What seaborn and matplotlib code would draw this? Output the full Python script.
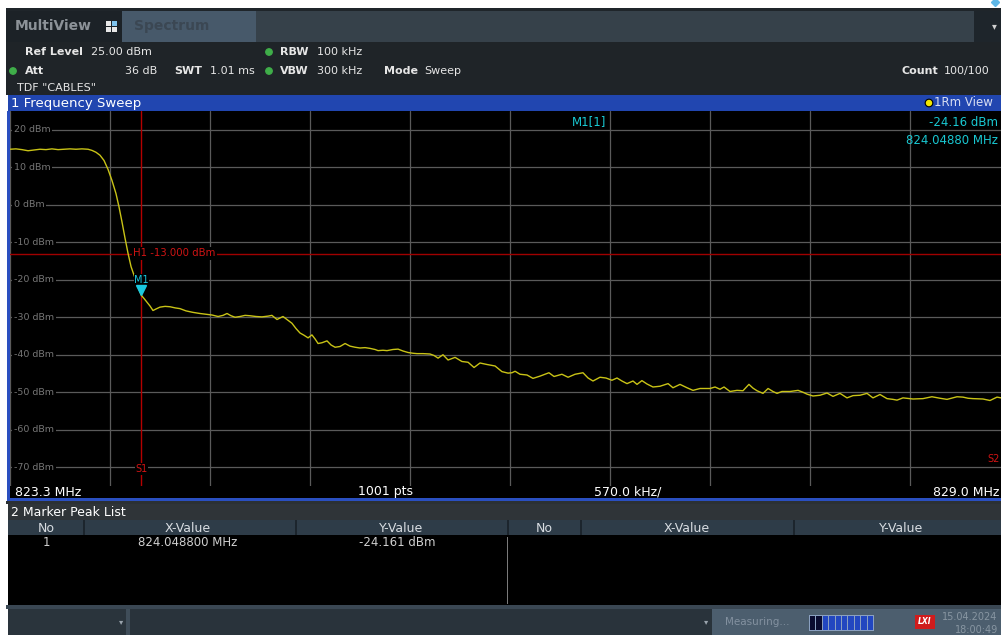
#%% Import Packages
import numpy as np
import seaborn as sns
import matplotlib.pyplot as plt
from matplotlib.patches import Rectangle, Circle
import matplotlib.transforms as mtransforms

#%% Data
freq_mhz = [823.300, 823.334, 823.368, 823.403, 823.437, 823.471, 823.505, 823.539, 823.574, 823.608,
            823.642, 823.676, 823.710, 823.745, 823.767, 823.790, 823.813, 823.836, 823.859, 823.881,
            823.904, 823.921, 823.938, 823.956, 823.973, 823.990, 824.007, 824.024, 824.035, 824.0488,
            824.064, 824.081, 824.098, 824.115, 824.132, 824.155, 824.184, 824.212, 824.241, 824.269,
            824.303, 824.343, 824.383, 824.417, 824.451, 824.486, 824.514, 824.537, 824.560, 824.583,
            824.611, 824.640, 824.668, 824.702, 824.736, 824.771, 824.793, 824.822, 824.839, 824.856,
            824.879, 824.907, 824.930, 824.953, 824.976, 824.999, 825.021, 825.039, 825.056, 825.078,
            825.107, 825.130, 825.153, 825.181, 825.210, 825.238, 825.267, 825.295, 825.324, 825.352,
            825.381, 825.398, 825.426, 825.449, 825.483, 825.512, 825.540, 825.569, 825.597, 825.620,
            825.654, 825.694, 825.717, 825.740, 825.768, 825.797, 825.837, 825.876, 825.911, 825.945,
            825.979, 826.019, 826.065, 826.104, 826.139, 826.161, 826.179, 826.207, 826.247, 826.281,
            826.321, 826.372, 826.401, 826.446, 826.481, 826.521, 826.566, 826.595, 826.623, 826.663,
            826.697, 826.731, 826.760, 826.788, 826.817, 826.851, 826.874, 826.902, 826.931, 826.965,
            827.005, 827.051, 827.079, 827.119, 827.159, 827.193, 827.233, 827.290, 827.319, 827.347,
            827.370, 827.404, 827.444, 827.478, 827.512, 827.535, 827.558, 827.592, 827.621, 827.649,
            827.672, 827.700, 827.746, 827.792, 827.820, 827.843, 827.877, 827.917, 827.957, 827.991,
            828.031, 828.071, 828.105, 828.145, 828.185, 828.219, 828.259, 828.299, 828.333, 828.356,
            828.390, 828.447, 828.504, 828.555, 828.601, 828.641, 828.675, 828.698, 828.732, 828.761,
            828.789, 828.846, 828.886, 828.926, 828.949, 829.000]
level_dbm = [14.8, 14.9, 14.7, 14.4, 14.6, 14.8, 14.7, 14.9, 14.7, 14.8,
             14.9, 14.8, 14.9, 14.8, 14.5, 14.0, 13.2, 11.8, 9.4, 6.5,
             3.0, -0.5, -4.5, -9.0, -13.0, -16.5, -18.8, -21.0, -22.6, -24.16,
             -25.0, -26.0, -27.0, -28.2, -27.8, -27.3, -27.1, -27.2, -27.5, -27.7,
             -28.3, -28.7, -29.0, -29.2, -29.4, -29.8, -29.5, -29.0, -29.6, -30.0,
             -29.8, -29.5, -29.6, -29.8, -29.9, -29.7, -29.5, -30.6, -30.2, -29.8,
             -30.6, -31.6, -33.0, -34.2, -34.8, -35.5, -34.7, -35.8, -37.0, -36.8,
             -36.3, -37.4, -38.0, -37.8, -37.0, -37.7, -38.0, -38.2, -38.1, -38.3,
             -38.6, -38.9, -38.8, -38.9, -38.6, -38.5, -39.0, -39.4, -39.6, -39.7,
             -39.7, -39.8, -40.2, -40.9, -40.0, -41.4, -40.7, -41.8, -42.0, -43.4,
             -42.2, -42.6, -43.0, -44.5, -44.9, -44.8, -44.4, -45.2, -45.4, -46.3,
             -45.7, -44.8, -45.8, -45.2, -46.0, -45.2, -44.8, -46.2, -47.0, -46.0,
             -46.2, -46.8, -46.2, -47.0, -47.7, -47.0, -47.9, -46.9, -47.8, -48.6,
             -48.4, -47.7, -48.8, -47.9, -48.8, -49.5, -49.0, -49.0, -48.6, -49.2,
             -48.6, -49.8, -49.5, -49.6, -47.9, -48.9, -49.6, -50.3, -49.0, -49.8,
             -50.3, -49.8, -49.8, -49.5, -50.0, -50.5, -51.0, -50.8, -50.2, -51.1,
             -50.3, -51.5, -50.9, -50.8, -50.3, -51.5, -50.6, -51.7, -51.9, -52.1,
             -51.5, -51.8, -51.7, -51.2, -51.6, -51.9, -51.5, -51.2, -51.3, -51.6,
             -51.7, -51.8, -52.2, -51.3, -51.5, -51.4]

f_start, f_stop = 823.3, 829.0
ref_level, bottom_level = 25.0, -75.0
grid_levels = [20, 10, 0, -10, -20, -30, -40, -50, -60, -70]
h1_level = -13.0
m1_freq, m1_level = 824.0488, -24.161
s1_freq = 824.0488
s2_freq = 828.87

#%% Figure setup
sns.set_style("dark", {"axes.facecolor": "black"})
plt.rcParams['font.family'] = ['DejaVu Sans']

W, H = 1001, 635
fig = plt.figure(figsize=(W / 100, H / 100), dpi=100, facecolor='white')

# background layer in screen pixels
bg = fig.add_axes([0, 0, 1, 1])
bg.set_xlim(0, W)
bg.set_ylim(H, 0)
bg.axis('off')
bg.set_zorder(1)

def box(x0, y0, x1, y1, color, **kw):
    bg.add_patch(Rectangle((x0, y0), x1 - x0, y1 - y0, facecolor=color, edgecolor='none', **kw))

def txt(x, y, s, size=8, color='#e6e6e6', weight='normal', ha='left', **kw):
    bg.text(x, y, s, fontsize=size, color=color, weight=weight, ha=ha, va='center', **kw)

# tab bar
bg.plot([995], [2], marker='D', ms=4, color='#5fb8e8', clip_on=False)
box(6, 8, W, 11, '#1f252a')
box(6, 11, 122, 42, '#1c2227')
box(122, 11, 256, 42, '#47596a')
box(256, 11, 974, 42, '#36414a')
box(974, 11, W, 42, '#1e252b')
txt(15, 26, 'MultiView', size=10, color='#8c9298', weight='bold')
box(106, 21, 111, 26, '#e8e8e8'); box(112, 21, 117, 26, '#7fc4ee')
box(106, 27, 111, 32, '#e8e8e8'); box(112, 27, 117, 32, '#e8e8e8')
txt(134, 26, 'Spectrum', size=10, color='#3b4753', weight='bold')
txt(994, 26, '▾', size=7, color='#d0d0d0', ha='center')

# settings panel
box(6, 42, W, 95, '#1f2428')
dot_green = '#3fae49'
txt(25, 52, 'Ref Level', weight='bold')
txt(91, 52, '25.00 dBm')
bg.add_patch(Circle((269, 52), 3.2, color=dot_green))
txt(280, 52, 'RBW', weight='bold')
txt(317, 52, '100 kHz')
bg.add_patch(Circle((13, 71), 3.2, color=dot_green))
txt(25, 71, 'Att', weight='bold')
txt(157, 71, '36 dB', ha='right')
txt(174, 71, 'SWT', weight='bold')
txt(210, 71, '1.01 ms')
bg.add_patch(Circle((269, 71), 3.2, color=dot_green))
txt(280, 71, 'VBW', weight='bold')
txt(317, 71, '300 kHz')
txt(384, 71, 'Mode', weight='bold')
txt(424, 71, 'Sweep')
txt(901, 71, 'Count', weight='bold')
txt(944, 71, '100/100')
txt(17, 88, 'TDF "CABLES"')

# window title bar
box(8, 95, W, 111, '#2146b0')
txt(11, 103, '1 Frequency Sweep', size=9.5, color='white')
bg.add_patch(Circle((929, 103), 3.8, facecolor='#f2e600', edgecolor='black', lw=0.8))
txt(934, 103, '1Rm View', size=8.5, color='#d8def2')

# left blue border + bottom label row
box(7, 111, 10, 501, '#2a4fc0')
box(10, 486, W, 498, 'black')
box(7, 498, W, 501, '#2a4fc0')
txt(15, 492, '823.3 MHz', size=9, color='white')
txt(385, 492, '1001 pts', size=9, color='white', ha='center')
txt(594, 492, '570.0 kHz/', size=9, color='white')
txt(933, 492, '829.0 MHz', size=9, color='white')

# marker peak list
box(6, 501, W, 504, '#2b3034')
box(8, 504, W, 520, '#2f3438')
txt(11, 512, '2 Marker Peak List', size=9, color='white')
box(8, 520, W, 535, '#2e3c48')
for sx in [83, 295, 507, 580, 793]:
    box(sx, 520, sx + 1.5, 535, '#1c252d')
box(8, 535, W, 605, 'black')
box(507, 537, 508, 604, '#7a7a7a')
hdr_col = '#d8dde2'
txt(46, 528, 'No', size=9, color=hdr_col, ha='center')
txt(188, 528, 'X-Value', size=9, color=hdr_col, ha='center')
txt(401, 528, 'Y-Value', size=9, color=hdr_col, ha='center')
txt(544, 528, 'No', size=9, color=hdr_col, ha='center')
txt(687, 528, 'X-Value', size=9, color=hdr_col, ha='center')
txt(901, 528, 'Y-Value', size=9, color=hdr_col, ha='center')
row_col = '#cfcfcf'
txt(46, 543, '1', size=8.5, color=row_col, ha='center')
txt(188, 543, f'{m1_freq:.6f} MHz', size=8.5, color=row_col, ha='center')
txt(397, 543, f'{m1_level:.3f} dBm', size=8.5, color=row_col, ha='center')

# status bar
box(6, 605, W, 609, '#3a4753')
box(8, 609, 126, H, '#2a343c')
box(126, 609, 130, H, '#3f4d59')
box(130, 609, 712, H, '#29333b')
box(712, 609, W, H, '#4c5e6e')
txt(121, 622, '▾', size=6, color='#9aa4ad', ha='center')
txt(706, 622, '▾', size=6, color='#9aa4ad', ha='center')
txt(725, 622, 'Measuring...', size=7.5, color='#8391a0')
bg.add_patch(Rectangle((809, 615), 65, 16, facecolor='#8aa0c0', edgecolor='none'))
for i in range(10):
    seg = '#0a0c30' if i < 2 else '#2247c0'
    bg.add_patch(Rectangle((810 + i * 6.4, 616), 5.4, 14, facecolor=seg, edgecolor='none'))
box(915, 615, 935, 629, '#d01c1c')
txt(925, 622, 'LXI', size=5.5, color='white', weight='bold', ha='center', style='italic')
txt(942, 617, '15.04.2024', size=7, color='#8896a2')
txt(955, 630, '18:00:49', size=7, color='#8896a2')

#%% Spectrum trace
ax = fig.add_axes([10 / W, (H - 486) / H, 1000 / W, 375 / H], zorder=2)
ax.set_facecolor('black')
sns.lineplot(x=freq_mhz, y=level_dbm, ax=ax, color='#c9c316', lw=1.0, zorder=5)
ax.set_xlim(f_start, f_stop)
ax.set_ylim(bottom_level, ref_level)
ax.set_xticks(np.linspace(f_start, f_stop, 11))
ax.set_yticks(grid_levels)
ax.grid(True, color='#5a5a5a', lw=0.9)
ax.tick_params(length=0, labelbottom=False, labelleft=False)
ax.set_xlabel('')
ax.set_ylabel('')
for sp in ax.spines.values():
    sp.set_visible(False)

lbl = mtransforms.blended_transform_factory(ax.transAxes, ax.transData)
for lv in grid_levels:
    ax.text(0.004, lv, f'{lv} dBm', transform=lbl, fontsize=6.8, color='#767676',
            ha='left', va='center', zorder=6,
            bbox=dict(facecolor='black', edgecolor='none', pad=1.2))

# H1 display line and S1/S2 frequency lines
ax.axhline(h1_level, color='#a00000', lw=1, zorder=3)
ax.text(s1_freq - 0.045, h1_level, f'H1 {h1_level:.3f} dBm', fontsize=7.3, color='#d01414',
        ha='left', va='center', zorder=6, bbox=dict(facecolor='black', edgecolor='none', pad=1))
ax.axvline(s1_freq, color='#b40000', lw=1, zorder=3)
ax.text(s1_freq, -70.5, 'S1', fontsize=7, color='#d01414', ha='center', va='center', zorder=6,
        bbox=dict(facecolor='black', edgecolor='none', pad=0.5))
ax.text(s2_freq, -67.8, 'S2', fontsize=7, color='#d01414', ha='left', va='center', zorder=6)

# marker M1
tip = mtransforms.offset_copy(ax.transData, fig=fig, y=5, units='dots')
ax.plot([m1_freq], [m1_level], marker='v', ms=7, color='#19c8e0', transform=tip, zorder=7)
ax.text(m1_freq, -20.0, 'M1', fontsize=7, color='#19c8e0', ha='center', va='center', zorder=6,
        bbox=dict(facecolor='black', edgecolor='none', pad=0.3))

# marker readout, on top of the trace window
cyan = '#19c8d2'
fig.text(572, 122, 'M1[1]', fontsize=8.5, color=cyan, va='center', transform=bg.transData, zorder=10)
fig.text(998, 122, f'{m1_level:.2f} dBm', fontsize=8.5, color=cyan, va='center', ha='right',
         transform=bg.transData, zorder=10)
fig.text(998, 140, f'{m1_freq:.5f} MHz', fontsize=8.5, color=cyan, va='center', ha='right',
         transform=bg.transData, zorder=10)

fig.savefig('out.png', dpi=100, facecolor=fig.get_facecolor())
